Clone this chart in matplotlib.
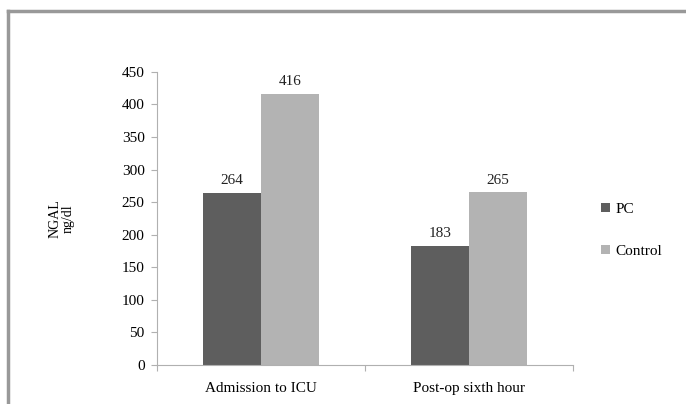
import matplotlib.pyplot as plt
from matplotlib.lines import Line2D
import numpy as np

plt.rcParams['font.family'] = ['Liberation Serif', 'DejaVu Serif']

# Data
categories = ['Admission to ICU', 'Post-op sixth hour']
pc = [264, 183]
control = [416, 265]
series_names = ['PC', 'Control']

fig = plt.figure(figsize=(6.86, 4.04), dpi=100)
ax = fig.add_axes([0.229, 0.0965, 0.606, 0.7255])

x = np.arange(len(categories))
w = 0.279
b1 = ax.bar(x - w / 2, pc, w, color='#5e5e5e', label=series_names[0])
b2 = ax.bar(x + w / 2, control, w, color='#b3b3b3', label=series_names[1])

for bars, vals in [(b1, pc), (b2, control)]:
    for rect, v in zip(bars, vals):
        ax.text(rect.get_x() + rect.get_width() / 2, v + 9, str(v),
                ha='center', va='bottom', fontsize=11, color='#222222')

ax.set_xlim(-0.5, 1.5)
ax.set_ylim(0, 450)
ax.set_yticks(range(0, 451, 50))
ax.set_xticks([-0.5, 0.5, 1.5])
ax.set_xticklabels([])
ax.set_xticks(x, minor=True)
ax.set_xticklabels(categories, minor=True, fontsize=11)
ax.tick_params(axis='x', which='minor', length=0, pad=12)
ax.tick_params(axis='x', which='major', length=4, color='#b0b0b0')
ax.tick_params(axis='y', length=4, color='#b0b0b0', labelsize=11, pad=5)

for s in ['top', 'right']:
    ax.spines[s].set_visible(False)
for s in ['left', 'bottom']:
    ax.spines[s].set_color('#b0b0b0')

ax.set_ylabel('NGAL\nng/dl', fontsize=10, labelpad=34, linespacing=1.0)

ax.legend(loc='center left', bbox_to_anchor=(1.035, 0.46), frameon=False,
          fontsize=11, handlelength=0.55, handleheight=0.55, handletextpad=0.4,
          labelspacing=1.9)

# outer frame (left and top edges visible)
fig.add_artist(Line2D([0.0115, 0.0115], [0, 0.972], color='#999999', lw=2.5,
                      transform=fig.transFigure))
fig.add_artist(Line2D([0.0115, 1.0], [0.972, 0.972], color='#999999', lw=2.5,
                      transform=fig.transFigure))

fig.savefig('out.png', dpi=100)
